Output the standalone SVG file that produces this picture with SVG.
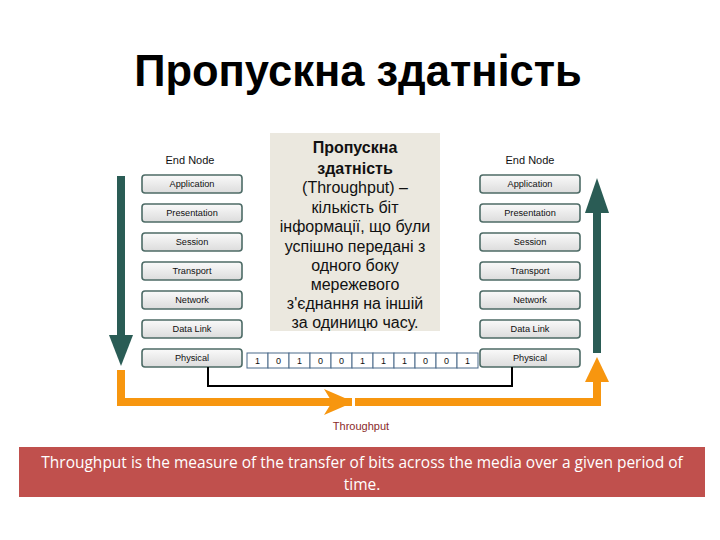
<svg xmlns="http://www.w3.org/2000/svg" width="720" height="540" viewBox="0 0 720 540">
<defs>
<linearGradient id="g" x1="0" y1="0" x2="0" y2="1">
<stop offset="0" stop-color="#fafafa"/><stop offset="1" stop-color="#dcdcdc"/>
</linearGradient>
<style>
.box{fill:url(#g);stroke:#4d6b66;stroke-width:1.6}
.lbl{font-family:"Liberation Sans",Arial,sans-serif;font-size:9.2px;fill:#111;text-anchor:middle}
.hdr{font-family:"Liberation Sans",Arial,sans-serif;font-size:11px;fill:#111;text-anchor:middle}
.bit{fill:#fff;stroke:#4a6a8a;stroke-width:1}
.bt{font-family:"Liberation Sans",Arial,sans-serif;font-size:9px;fill:#111;text-anchor:middle}
.desc{font-family:"Liberation Sans",Arial,sans-serif;font-size:16px;fill:#111;text-anchor:middle}
</style>
</defs>
<rect width="720" height="540" fill="#fff"/>
<text x="358" y="86" font-family="Liberation Sans,Arial,sans-serif" font-size="43.5" font-weight="bold" text-anchor="middle" fill="#000">Пропускна здатність</text>

<g id="textbox">
<rect x="270" y="133" width="170" height="198" fill="#ebe8df"/>
<text class="desc" x="355" y="153" font-weight="bold" font-size="15.5">Пропускна</text>
<text class="desc" x="355" y="174" font-weight="bold" font-size="15.5">здатність</text>
<text class="desc" x="355" y="193">(Throughput) –</text>
<text class="desc" x="355" y="213">кількість біт</text>
<text class="desc" x="355" y="232">інформації, що були</text>
<text class="desc" x="355" y="252">успішно передані з</text>
<text class="desc" x="355" y="271">одного боку</text>
<text class="desc" x="355" y="290">мережевого</text>
<text class="desc" x="355" y="309">з'єднання на іншій</text>
<text class="desc" x="355" y="328">за одиницю часу.</text>
</g>

<g id="left-node">
<text class="hdr" x="190" y="164">End Node</text>
<rect class="box" x="142" y="175" width="100" height="18" rx="3"/><text class="lbl" x="192" y="187">Application</text>
<rect class="box" x="142" y="204" width="100" height="18" rx="3"/><text class="lbl" x="192" y="216">Presentation</text>
<rect class="box" x="142" y="233" width="100" height="18" rx="3"/><text class="lbl" x="192" y="245">Session</text>
<rect class="box" x="142" y="262" width="100" height="18" rx="3"/><text class="lbl" x="192" y="274">Transport</text>
<rect class="box" x="142" y="291" width="100" height="18" rx="3"/><text class="lbl" x="192" y="303">Network</text>
<rect class="box" x="142" y="320" width="100" height="18" rx="3"/><text class="lbl" x="192" y="332">Data Link</text>
<rect class="box" x="142" y="349" width="100" height="18" rx="3"/><text class="lbl" x="192" y="361">Physical</text>
</g>

<g id="right-node">
<text class="hdr" x="530" y="164">End Node</text>
<rect class="box" x="480" y="175" width="100" height="18" rx="3"/><text class="lbl" x="530" y="187">Application</text>
<rect class="box" x="480" y="204" width="100" height="18" rx="3"/><text class="lbl" x="530" y="216">Presentation</text>
<rect class="box" x="480" y="233" width="100" height="18" rx="3"/><text class="lbl" x="530" y="245">Session</text>
<rect class="box" x="480" y="262" width="100" height="18" rx="3"/><text class="lbl" x="530" y="274">Transport</text>
<rect class="box" x="480" y="291" width="100" height="18" rx="3"/><text class="lbl" x="530" y="303">Network</text>
<rect class="box" x="480" y="320" width="100" height="18" rx="3"/><text class="lbl" x="530" y="332">Data Link</text>
<rect class="box" x="480" y="349" width="100" height="18" rx="3"/><text class="lbl" x="530" y="361">Physical</text>
</g>

<g id="bits">
<rect class="bit" x="247" y="353" width="21" height="15"/><text class="bt" x="257.5" y="364">1</text>
<rect class="bit" x="268" y="353" width="21" height="15"/><text class="bt" x="278.5" y="364">0</text>
<rect class="bit" x="289" y="353" width="21" height="15"/><text class="bt" x="299.5" y="364">1</text>
<rect class="bit" x="310" y="353" width="21" height="15"/><text class="bt" x="320.5" y="364">0</text>
<rect class="bit" x="331" y="353" width="21" height="15"/><text class="bt" x="341.5" y="364">0</text>
<rect class="bit" x="352" y="353" width="21" height="15"/><text class="bt" x="362.5" y="364">1</text>
<rect class="bit" x="373" y="353" width="21" height="15"/><text class="bt" x="383.5" y="364">1</text>
<rect class="bit" x="394" y="353" width="21" height="15"/><text class="bt" x="404.5" y="364">1</text>
<rect class="bit" x="415" y="353" width="21" height="15"/><text class="bt" x="425.5" y="364">0</text>
<rect class="bit" x="436" y="353" width="21" height="15"/><text class="bt" x="446.5" y="364">0</text>
<rect class="bit" x="457" y="353" width="21" height="15"/><text class="bt" x="467.5" y="364">1</text>
</g>

<g id="connectors">
<polyline points="208,367 208,386 512,386 512,367" fill="none" stroke="#000" stroke-width="2"/>
<rect x="117" y="176" width="8" height="160" fill="#2a5c55"/>
<polygon points="109,335 133,335 121,366" fill="#2a5c55"/>
<rect x="593" y="210" width="8" height="143" fill="#2a5c55"/>
<polygon points="585,213 609,213 597,178" fill="#2a5c55"/>
<path d="M121,370 V402 H597 V380" fill="none" stroke="#f7960f" stroke-width="8"/>
<polygon points="585,382 609,382 597,357" fill="#f7960f"/>
<polygon points="324,389 354,402 324,415 332,402" fill="#f7960f"/>
<rect x="352" y="397" width="3" height="10" fill="#fff"/>
<text x="361" y="430" font-family="Liberation Sans,Arial,sans-serif" font-size="11" fill="#8a2a2a" text-anchor="middle">Throughput</text>
</g>

<g id="caption">
<rect x="19" y="447" width="686" height="50" fill="#c0504d"/>
<text x="362" y="468" font-family="Open Sans,Lato,sans-serif" font-size="15.5" fill="#fff" text-anchor="middle">Throughput is the measure of the transfer of bits across the media over a given period of</text>
<text x="362" y="490" font-family="Open Sans,Lato,sans-serif" font-size="15.5" fill="#fff" text-anchor="middle">time.</text>
</g>
</svg>
